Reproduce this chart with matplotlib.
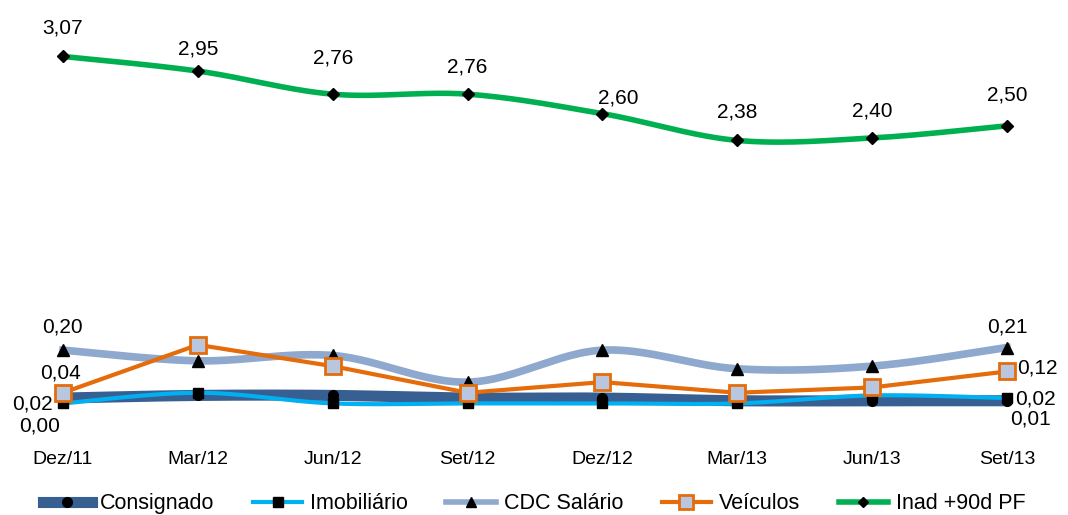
#Imports
import numpy as np
import matplotlib.pyplot as plt

plt.rcParams['font.family'] = ['Liberation Sans', 'DejaVu Sans']

#Data
months = ['Dez/11', 'Mar/12', 'Jun/12', 'Set/12', 'Dez/12', 'Mar/13', 'Jun/13', 'Set/13']
consignado = [0.02, 0.03, 0.03, 0.02, 0.02, 0.01, 0.01, 0.01]
imobiliario = [0.00, 0.04, 0.00, 0.00, 0.00, 0.00, 0.03, 0.02]
cdc_salario = [0.20, 0.16, 0.18, 0.08, 0.20, 0.13, 0.14, 0.21]
veiculos = [0.04, 0.22, 0.14, 0.04, 0.08, 0.04, 0.06, 0.12]
inad = [3.07, 2.95, 2.76, 2.76, 2.60, 2.38, 2.40, 2.50]


def smooth(y, n=30):
  # bezier smoothing like the spreadsheet "smoothed line"
  y = np.asarray(y, float)
  x = np.arange(len(y), dtype=float)
  xs, ys = [], []
  for i in range(len(y) - 1):
    x0, x3 = x[i], x[i + 1]
    y0, y3 = y[i], y[i + 1]
    yp = y[i - 1] if i > 0 else y0
    yn = y[i + 2] if i + 2 < len(y) else y3
    xp = x[i - 1] if i > 0 else x0
    xn = x[i + 2] if i + 2 < len(y) else x3
    x1, y1 = x0 + (x3 - xp) / 6, y0 + (y3 - yp) / 6
    x2, y2 = x3 - (xn - x0) / 6, y3 - (yn - y0) / 6
    t = np.linspace(0, 1, n)
    xs.append((1-t)**3*x0 + 3*(1-t)**2*t*x1 + 3*(1-t)*t**2*x2 + t**3*x3)
    ys.append((1-t)**3*y0 + 3*(1-t)**2*t*y1 + 3*(1-t)*t**2*y2 + t**3*y3)
  return np.concatenate(xs), np.concatenate(ys)


def fmt(v):
  return ('%.2f' % v).replace('.', ',')


x = np.arange(len(months))

fig = plt.figure(figsize=(10.68, 5.15), dpi=100)
ax = fig.add_axes([0, 0.165, 1, 0.827])
ax2 = ax.twinx()

#colors
c_cons = '#375F92'
c_imob = '#00B0F0'
c_cdc = '#8EA8CE'
c_vei = '#E46C0A'
c_inad = '#00B050'

xc, yc = smooth(consignado)
ax.plot(xc, yc, color=c_cons, lw=8, solid_capstyle='round', zorder=2)
ax.plot(x, consignado, 'o', color='black', ms=7, zorder=5)

xi, yi = smooth(imobiliario)
ax.plot(xi, yi, color=c_imob, lw=3, zorder=3)
ax.plot(x, imobiliario, 's', color='black', ms=7, zorder=5)

xd, yd = smooth(cdc_salario)
ax.plot(xd, yd, color=c_cdc, lw=5.5, zorder=2)
ax.plot(x, cdc_salario, '^', color='black', ms=8, zorder=5)

ax.plot(x, veiculos, color=c_vei, lw=3, marker='s', ms=12, mfc='#B9C6E0',
        mec=c_vei, mew=2, zorder=6)

xn, yn = smooth(inad)
ax2.plot(xn, yn, color=c_inad, lw=4, zorder=3)
ax2.plot(x, inad, 'D', color='black', ms=6, zorder=5)

#axis limits and looks
ax.set_xlim(-0.467, 7.452)
ax.set_ylim(-0.1, 1.5)
ax2.set_ylim(0, 3.5)
for a in (ax, ax2):
  a.set_yticks([])
  for s in a.spines.values():
    s.set_visible(False)
ax.set_xticks(x)
ax.set_xticklabels(months, fontsize=14)
ax.tick_params(axis='x', length=0, pad=15)

#labels on Inad line (offsets in pixels)
inad_off = [(0, 28), (0, 22), (0, 36), (0, 27), (16, 16), (0, 28), (0, 27), (0, 31)]
for i, v in enumerate(inad):
  ax2.annotate(fmt(v), (x[i], v), xytext=inad_off[i], textcoords='offset pixels',
               ha='center', va='center', fontsize=15)

#labels on first and last points of small series
small = [(cdc_salario, 0, (-1, 23)), (veiculos, 0, (-2, 20)),
         (consignado, 0, (-31, -6)), (imobiliario, 0, (-23, -23)),
         (cdc_salario, 7, (0, 21)), (veiculos, 7, (30, 3)),
         (imobiliario, 7, (28, -1)), (consignado, 7, (23, -18))]
for serie, i, off in small:
  ax.annotate(fmt(serie[i]), (i, serie[i]), xytext=off, textcoords='offset pixels',
              ha='center', va='center', fontsize=15)

#legend
h1, = ax.plot([], [], color=c_cons, lw=8, marker='o', mfc='black', mec='black', ms=7)
h2, = ax.plot([], [], color=c_imob, lw=3, marker='s', mfc='black', mec='black', ms=7)
h3, = ax.plot([], [], color=c_cdc, lw=4, marker='^', mfc='black', mec='black', ms=7)
h4, = ax.plot([], [], color=c_vei, lw=3, marker='s', mfc='#B9C6E0', mec=c_vei, mew=2, ms=10)
h5, = ax.plot([], [], color=c_inad, lw=4, marker='D', mfc='black', mec='black', ms=5)
fig.legend([h1, h2, h3, h4, h5], ['Consignado', 'Imobiliário', 'CDC Salário', 'Veículos', 'Inad +90d PF'],
           loc='center', bbox_to_anchor=(0.5, 0.022), ncol=5, frameon=False, fontsize=15.5,
           handlelength=2.3, columnspacing=1.8, handletextpad=0.35)

plt.savefig('out.png', dpi=100)
